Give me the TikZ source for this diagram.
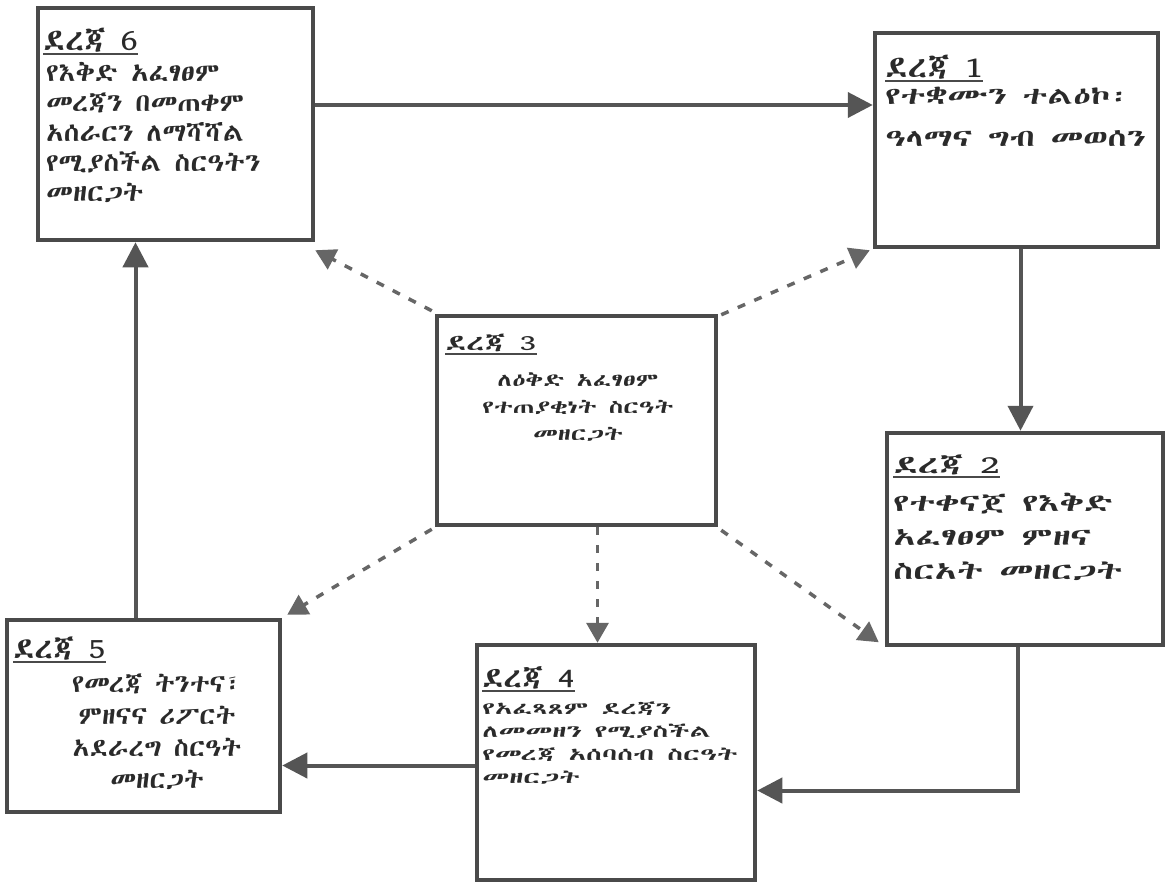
\documentclass[tikz,border=0pt]{standalone}
\usepackage{fontspec}
\usetikzlibrary{arrows.meta,fit}
\newfontfamily\eth{Abyssinica SIL}
\newcommand\ethsz[2]{\eth\fontsize{#1}{#2}\selectfont}
\definecolor{boxgray}{HTML}{4A4A4A}
\definecolor{arrgray}{HTML}{555555}
\definecolor{dashgray}{HTML}{666666}
\definecolor{txt}{HTML}{2A2A2A}
\tikzset{
 box/.style={draw=boxgray,line width=4.5pt,inner sep=0pt},
 head/.style={inner sep=0pt,text=txt,anchor=base west},
 body/.style={inner sep=0pt,text=txt},
 uline/.style={draw=boxgray,line width=1.6pt},
 arr/.style={draw=arrgray,line width=4pt,-{Triangle[length=25pt,width=25pt]}},
 darr/.style={draw=dashgray,line width=3.5pt,dash pattern=on 8pt off 10pt,-{Triangle[length=20pt,width=22pt]}}
}
\begin{document}
\begin{tikzpicture}[x=1pt,y=-1pt]
\useasboundingbox (0,0) rectangle (1166,886);
\fill[white] (0,0) rectangle (1166,886);
% boxes
\node[box,fit={(38,8)(313,240)}] (b6) {};
\node[box,fit={(875,33)(1158,247)}] (b1) {};
\node[box,fit={(437,316)(716,525)}] (b3) {};
\node[box,fit={(887,433)(1163,645)}] (b2) {};
\node[box,fit={(7,620)(280,812)}] (b5) {};
\node[box,fit={(477,645)(755,880)}] (b4) {};
% headings
\node[head,xscale=1.1,font=\ethsz{30}{30}] (h6) at (43,50) {ደረጃ 6};
\node[head,xscale=1.13,font=\ethsz{30}{30}] (h1) at (885,77) {ደረጃ 1};
\node[head,xscale=1.44,font=\ethsz{22}{22}] (h3) at (445,350) {ደረጃ 3};
\node[head,xscale=1.48,font=\ethsz{25}{25}] (h2) at (893,473) {ደረጃ 2};
\node[head,xscale=1.11,font=\ethsz{29}{29}] (h5) at (13,658) {ደረጃ 5};
\node[head,xscale=1.15,font=\ethsz{28}{28}] (h4) at (482,687) {ደረጃ 4};
\foreach \h in {h6,h1,h3,h2,h5,h4}{\draw[uline] ([yshift=-4pt]\h.base west) -- ([yshift=-4pt]\h.base east);}
% bodies
\node[body,anchor=north west,align=left,xscale=1.145,font=\ethsz{25}{30}] (t6) at (46,62) {የእቅድ አፈፃፀም\\መረጃን በመጠቀም\\አሰራርን ለማሻሻል\\የሚያስችል ስርዓትን\\መዘርጋት};
\node[body,anchor=north west,align=left,xscale=1.45,font=\ethsz{24}{42}] (t1) at (885,87) {የተቋሙን ተልዕኮ፡\\ዓላማና ግብ መወሰን};
\node[body,anchor=north,align=center,xscale=1.47,font=\ethsz{18}{27}] (t3) at (578,373) {ለዕቅድ አፈፃፀም\\የተጠያቂነት ስርዓት\\መዘርጋት};
\node[body,anchor=north west,align=left,xscale=1.51,font=\ethsz{24}{34}] (t2) at (893,493) {የተቀናጀ የእቅድ\\አፈፃፀም ምዘና\\ስርአት መዘርጋት};
\node[body,anchor=north,align=center,xscale=1.1,font=\ethsz{25}{32}] (t5) at (157,674) {የመረጃ ትንተና፣\\ምዘናና ሪፖርት\\አደራረግ ስርዓት\\መዘርጋት};
\node[body,anchor=north west,align=left,xscale=1.69,font=\ethsz{17}{23}] (t4) at (482,702) {የአፈጻጸም ደረጃን\\ለመመዘን የሚያስችል\\የመረጃ አሰባሰብ ስርዓት\\መዘርጋት};
% solid connectors
\draw[arr] ([yshift=19pt]b6.east) -- ([yshift=19pt]b6.east -| b1.west);
\draw[arr] ([xshift=4pt]b1.south) -- ([xshift=4pt]b1.south |- b2.north);
\draw[arr] ([xshift=-7pt]b2.south) |- ([yshift=-28pt]b4.east);
\draw[arr] ([yshift=-3pt]b4.west) -- ([yshift=-3pt]b4.west -| b5.east);
\draw[arr] ([xshift=-8pt]b5.north) -- ([xshift=-8pt]b5.north |- b6.south);
% dashed connectors
\draw[darr] ([shift={(-3pt,3pt)}]b3.north west) -- ([shift={(0pt,-8pt)}]b6.south east);
\draw[darr] ([shift={(3pt,-1pt)}]b3.north east) -- ([shift={(-3pt,-1pt)}]b1.south west);
\draw[darr] ([shift={(-3pt,-2pt)}]b3.south west) -- ([shift={(5pt,3pt)}]b5.north east);
\draw[darr] ([xshift=21pt]b3.south) -- ([xshift=21pt]b3.south |- b4.north);
\draw[darr] ([shift={(3pt,-3pt)}]b3.south east) -- ([shift={(-6pt,5pt)}]b2.south west);
\end{tikzpicture}
\end{document}
